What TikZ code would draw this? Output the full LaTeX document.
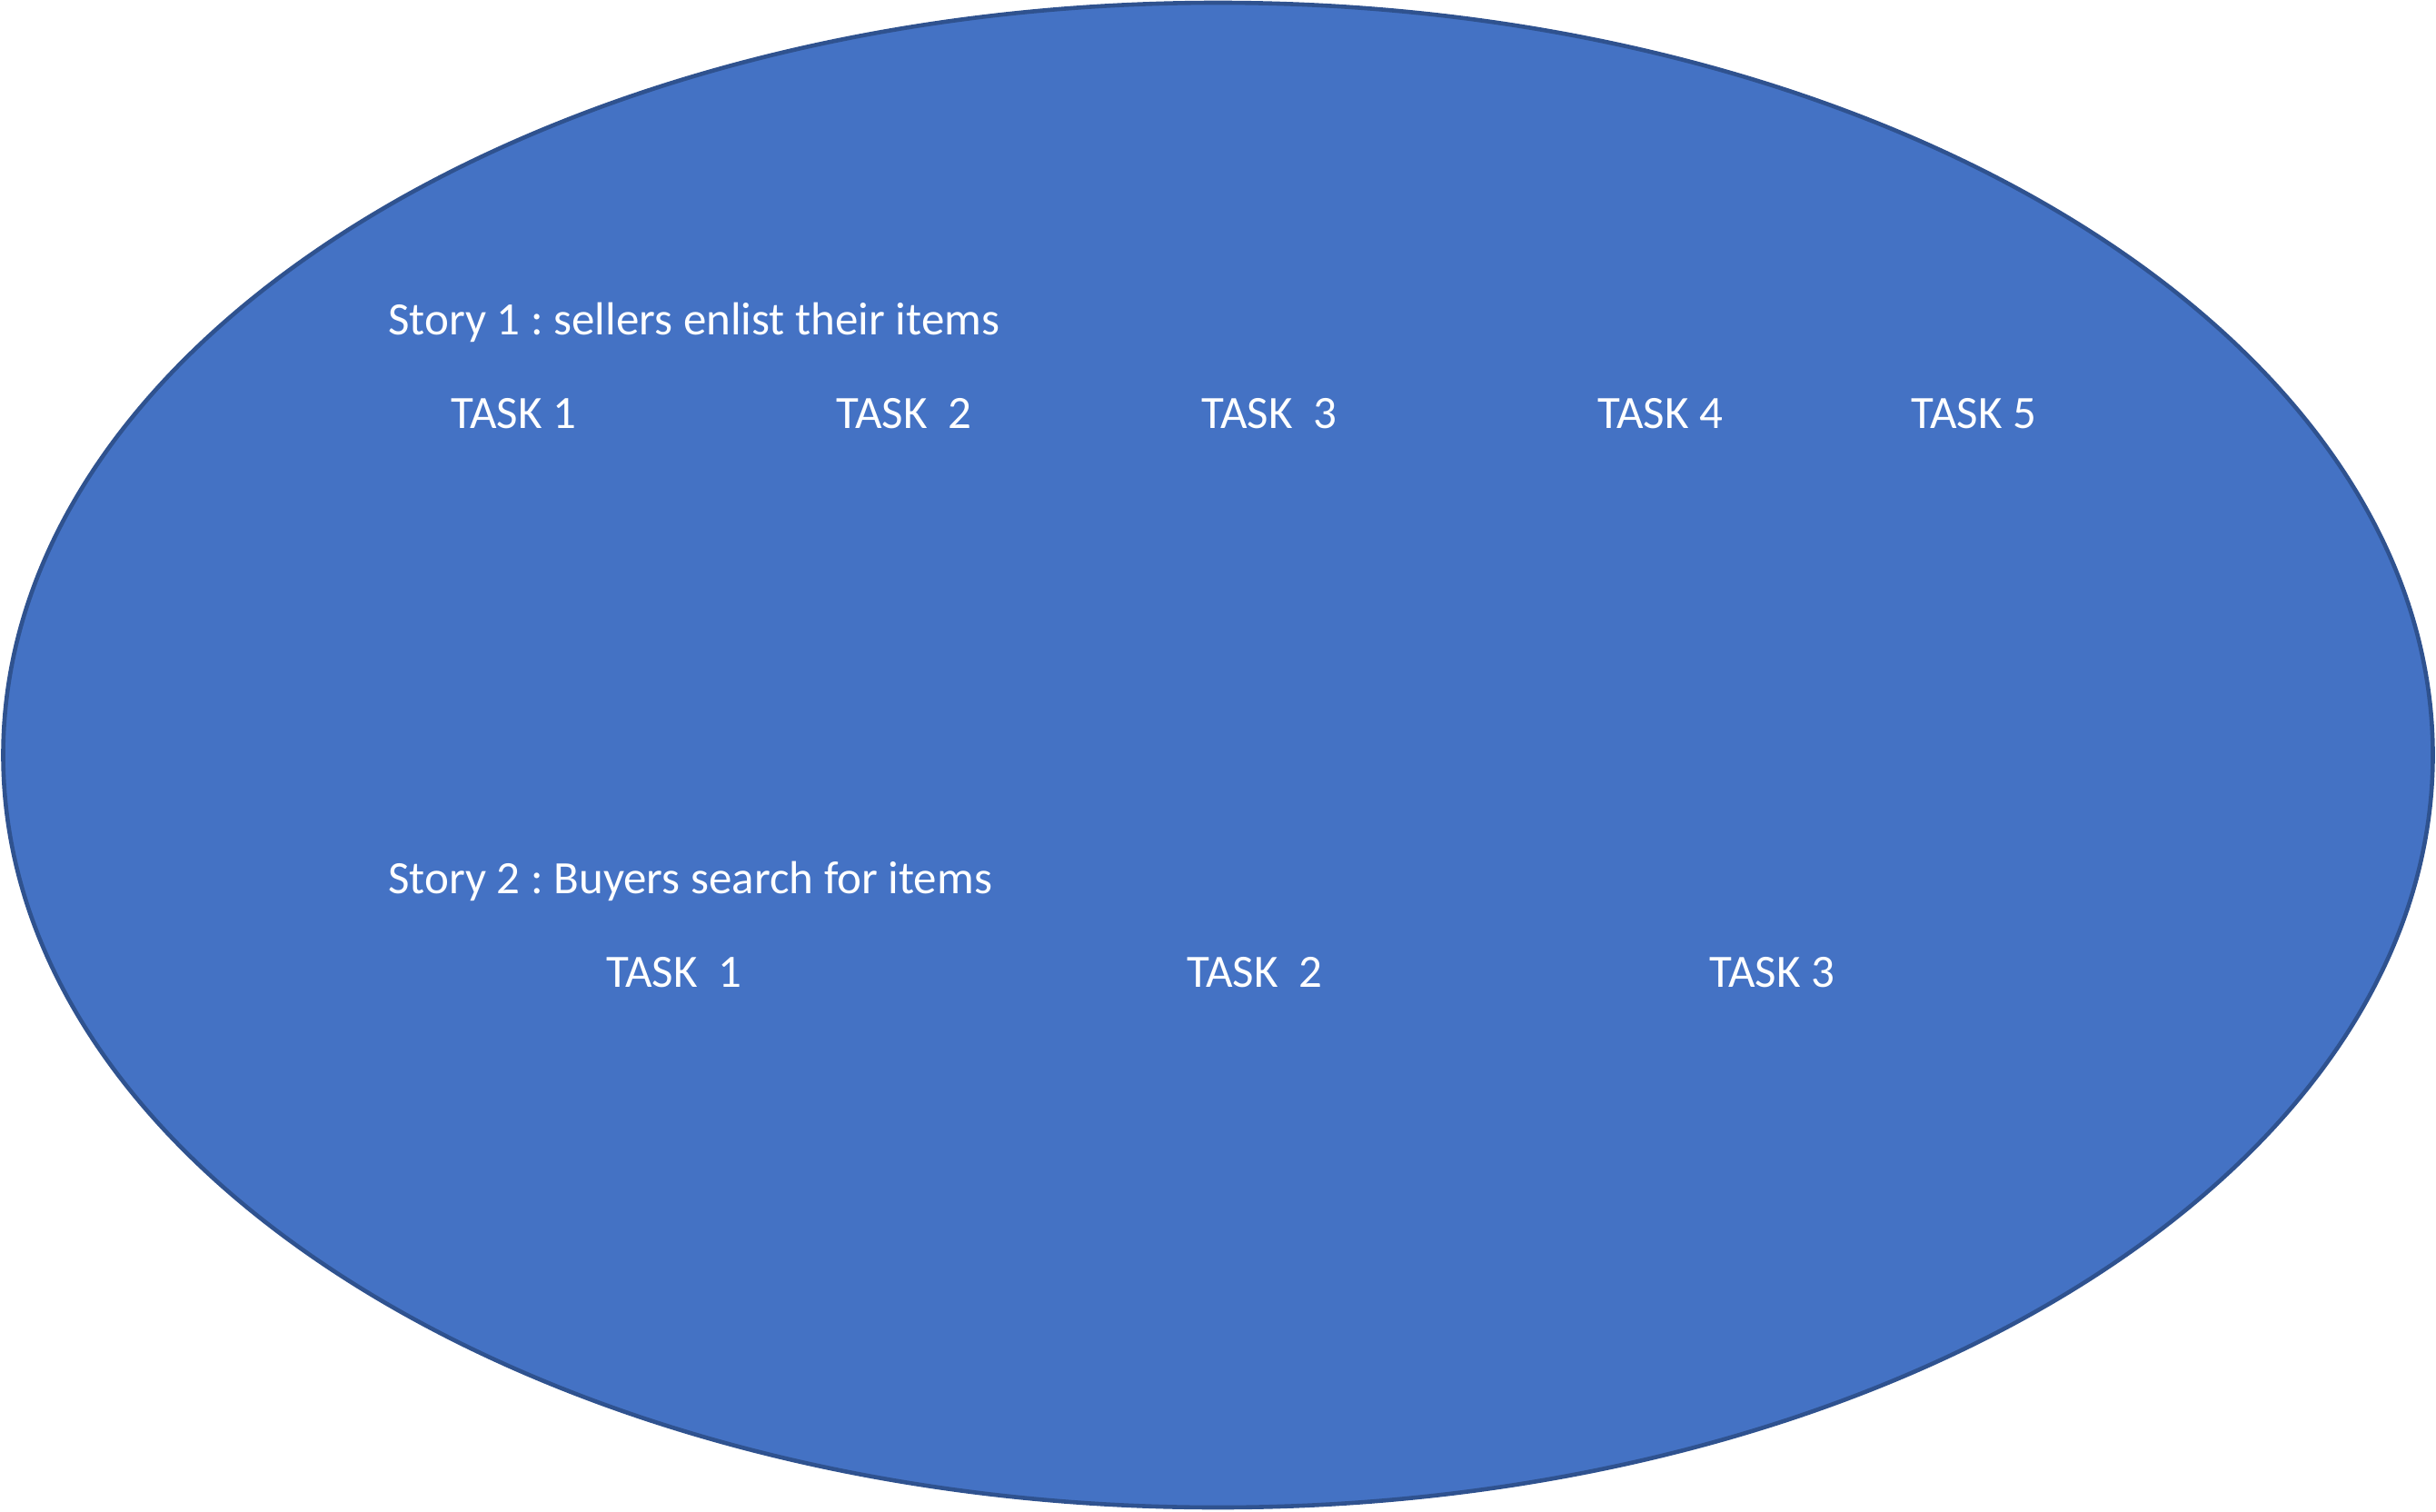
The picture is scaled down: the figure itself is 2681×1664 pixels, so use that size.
\documentclass[tikz,border=0pt]{standalone}
\usepackage{fontspec}
\setmainfont{Carlito}
\frenchspacing
\definecolor{fillblue}{HTML}{4472C4}
\definecolor{edgeblue}{HTML}{2F528F}
\begin{document}
\begin{tikzpicture}[x=0.5pt,y=-0.5pt,
  lbl/.style={anchor=base west,inner sep=0pt,text=white,font=\fontsize{25.5}{30}\selectfont\frenchspacing}]
\useasboundingbox (0,0) rectangle (2681,1664);
\draw[fill=fillblue,draw=edgeblue,line width=2.3pt] (1340.5,831) ellipse [x radius=1337, y radius=828];
\node[lbl] (s1) at (427,368) {Story 1 : sellers enlist their items};
\node[lbl] (a1) at (496,471) {TASK 1};
\node[lbl] (a2) at (920,471) {TASK\ \ 2};
\node[lbl] (a3) at (1322,471) {TASK\ \ 3};
\node[lbl] (a4) at (1758,471) {TASK 4};
\node[lbl] (a5) at (2103,471) {TASK 5};
\node[lbl] (s2) at (427,983) {Story 2 : Buyers search for items};
\node[lbl] (b1) at (667,1086) {TASK\ \ 1};
\node[lbl] (b2) at (1306,1086) {TASK\ \ 2};
\node[lbl] (b3) at (1881,1086) {TASK 3};
\end{tikzpicture}
\end{document}
